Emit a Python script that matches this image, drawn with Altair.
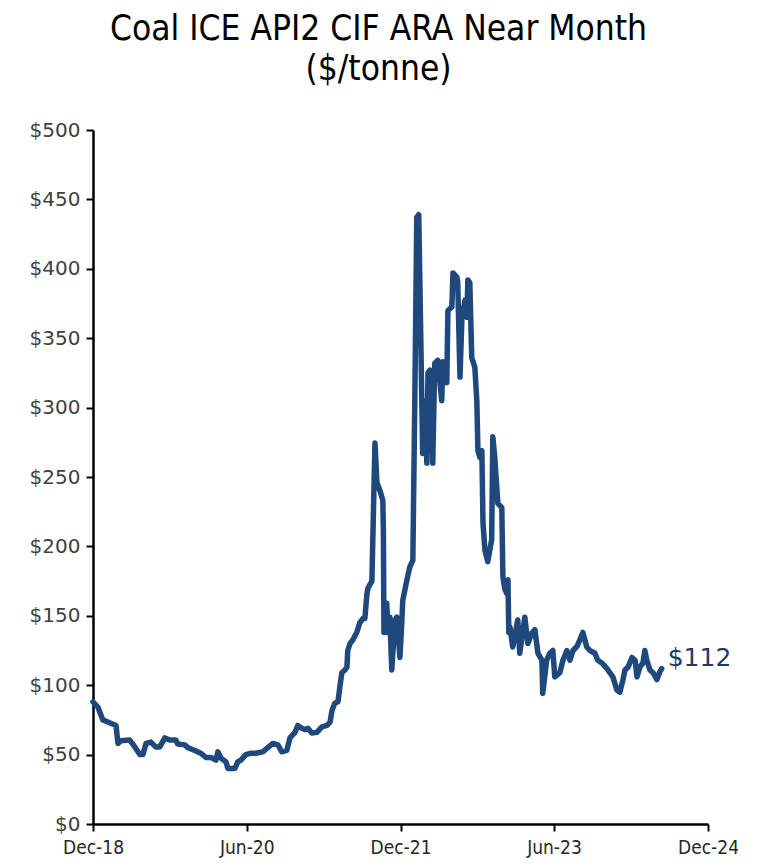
import altair as alt
import pandas as pd

dates = [
    "2018-12-01", "2018-12-19", "2019-01-05", "2019-01-23", "2019-02-21", "2019-02-28",
    "2019-03-10", "2019-04-11", "2019-04-29", "2019-05-17", "2019-05-28", "2019-06-08",
    "2019-06-25", "2019-07-13", "2019-07-27", "2019-08-14", "2019-09-01", "2019-09-22",
    "2019-09-29", "2019-10-24", "2019-11-04", "2019-11-29", "2019-12-20", "2020-01-07",
    "2020-01-25", "2020-02-12", "2020-02-19", "2020-03-01", "2020-03-19", "2020-03-26",
    "2020-04-20", "2020-04-30", "2020-05-11", "2020-05-29", "2020-06-16", "2020-07-03",
    "2020-07-28", "2020-08-15", "2020-09-02", "2020-09-20", "2020-10-04", "2020-10-22",
    "2020-11-02", "2020-11-20", "2020-11-30", "2020-12-14", "2020-12-25", "2021-01-05",
    "2021-01-19", "2021-02-06", "2021-02-24", "2021-03-14", "2021-03-25", "2021-04-01",
    "2021-04-11", "2021-04-22", "2021-04-29", "2021-05-06", "2021-05-17", "2021-05-24",
    "2021-05-27", "2021-06-04", "2021-06-14", "2021-06-28", "2021-07-09", "2021-07-20",
    "2021-07-27", "2021-08-03", "2021-08-07", "2021-08-21", "2021-08-24", "2021-09-01",
    "2021-09-08", "2021-09-19", "2021-09-29", "2021-10-01", "2021-10-03", "2021-10-13",
    "2021-10-17", "2021-10-24", "2021-10-31", "2021-11-11", "2021-11-18", "2021-11-29",
    "2021-12-06", "2021-12-09", "2021-12-24", "2022-01-03", "2022-01-14", "2022-01-21",
    "2022-01-28", "2022-02-04", "2022-02-11", "2022-02-18", "2022-02-25", "2022-03-05",
    "2022-03-09", "2022-03-16", "2022-03-23", "2022-03-26", "2022-04-02", "2022-04-13",
    "2022-04-27", "2022-05-01", "2022-05-15", "2022-05-19", "2022-06-02", "2022-06-06",
    "2022-06-20", "2022-06-23", "2022-07-01", "2022-07-08", "2022-07-19", "2022-07-26",
    "2022-07-29", "2022-08-05", "2022-08-12", "2022-08-23", "2022-08-30", "2022-09-03",
    "2022-09-10", "2022-09-17", "2022-09-21", "2022-09-28", "2022-10-08", "2022-10-22",
    "2022-10-26", "2022-11-02", "2022-11-13", "2022-11-27", "2022-12-01", "2022-12-08",
    "2022-12-15", "2022-12-19", "2022-12-22", "2022-12-26", "2023-01-05", "2023-01-23",
    "2023-01-30", "2023-02-17", "2023-02-28", "2023-03-14", "2023-03-25", "2023-04-05",
    "2023-04-19", "2023-04-22", "2023-05-06", "2023-05-17", "2023-05-28", "2023-06-04",
    "2023-06-22", "2023-07-03", "2023-07-17", "2023-07-28", "2023-08-08", "2023-08-22",
    "2023-09-01", "2023-09-12", "2023-09-26", "2023-10-07", "2023-10-25", "2023-11-04",
    "2023-11-19", "2023-12-07", "2023-12-17", "2023-12-28", "2024-01-11", "2024-01-22",
    "2024-02-02", "2024-02-09", "2024-02-20", "2024-03-05", "2024-03-16", "2024-03-23",
    "2024-04-02", "2024-04-13", "2024-04-20", "2024-04-27", "2024-05-08", "2024-05-19",
    "2024-06-02", "2024-06-12", "2024-06-19",
]

prices = [
    88, 84, 75, 73.5, 71, 58,
    60, 60.5, 55.5, 50, 50, 58,
    59, 55.5, 55.5, 62, 60.5, 60.5,
    57.6, 57, 55, 53, 51, 48,
    48, 46, 52, 47.5, 44.7, 40,
    40, 44.7, 46, 50, 51, 51,
    52, 55, 58, 57, 52, 53,
    62, 66, 71, 69, 68, 69,
    65.5, 66, 70, 71, 73.5, 82,
    87, 88, 99, 109, 111, 113,
    125, 130, 132.5, 138, 145, 148,
    148, 165, 170, 175, 202, 274.5,
    246, 240, 233, 210, 138, 159,
    138, 149, 111, 147, 149, 120,
    147, 161, 176, 185, 190, 305,
    437, 439, 354, 267, 305, 260,
    325, 327, 286, 260, 332, 334,
    305, 333, 318, 370, 372.5, 397,
    394, 390, 322, 365, 377.5, 365,
    392, 390, 336, 329, 305, 269,
    264, 269, 217, 197, 189, 205,
    279, 264, 231, 228, 178, 169,
    166, 176, 138, 142, 127.5, 147,
    123, 149, 130, 137.6, 140, 123,
    118, 94, 118, 123, 125, 106,
    109, 118, 125, 118, 125, 128,
    132.5, 138, 127.5, 125, 123, 118,
    116, 112, 109, 106, 96.5, 95,
    104, 111, 113, 120, 118, 106,
    113, 116, 125, 118, 111, 109,
    104, 109.5, 112,
]

last_label = ["$112"]

tick_dates = ["2018-12-01", "2020-06-01", "2021-12-01", "2023-06-01", "2024-12-01"]

df = pd.DataFrame({"date": dates, "price": prices})
last_df = pd.DataFrame({"date": [dates[-1]], "price": [prices[-1]], "label": last_label})

tick_values = [
    alt.DateTime(year=int(d[:4]), month=int(d[5:7]), date=int(d[8:]), utc=True)
    for d in tick_dates
]

x_scale = alt.Scale(
    type="utc",
    domain=[tick_values[0], tick_values[-1]],
)
y_scale = alt.Scale(domain=[0, 500])

line = alt.Chart(df).mark_line(
    color="#1F497D", strokeWidth=5.5, strokeJoin="round", strokeCap="round"
).encode(
    x=alt.X(
        "date:T",
        scale=x_scale,
        title=None,
        axis=alt.Axis(
            values=tick_values,
            labelExpr="utcFormat(datum.value, '%b-%y')",
            labelAlign="center",
            labelFont="DejaVu Sans Condensed",
            labelFontSize=19,
            labelColor="#262626",
            labelPadding=7,
            tickSize=7,
            tickWidth=2,
            tickColor="black",
            domainColor="black",
            domainWidth=2.5,
            grid=False,
            labelOverlap=False,
            labelFlush=False,
        ),
    ),
    y=alt.Y(
        "price:Q",
        scale=y_scale,
        title=None,
        axis=alt.Axis(
            values=list(range(0, 501, 50)),
            format="$,.0f",
            labelFont="DejaVu Sans",
            labelFontSize=20,
            labelColor="#404040",
            labelPadding=6,
            tickSize=7,
            tickWidth=2,
            tickColor="black",
            domainColor="black",
            domainWidth=2.5,
            grid=False,
        ),
    ),
)

label = alt.Chart(last_df).mark_text(
    align="left", baseline="middle", dx=6, dy=-11,
    font="DejaVu Sans", fontSize=25, color="#1F3864",
).encode(
    x=alt.X("date:T", scale=x_scale),
    y=alt.Y("price:Q", scale=y_scale),
    text="label:N",
)

chart = (
    alt.layer(line, label)
    .properties(
        width=615,
        height=694,
        autosize=alt.AutoSizeParams(type="none"),
        padding={"left": 85, "top": 122, "right": 30, "bottom": 41},
        title=alt.TitleParams(
            text=["Coal ICE API2 CIF ARA Near Month", "($/tonne)"],
            font="DejaVu Sans Condensed",
            fontSize=35,
            fontWeight="normal",
            color="black",
            anchor="middle",
            dx=-22,
            lineHeight=40,
            offset=33,
        ),
    )
    .configure_view(stroke=None)
)

chart.save("out.html", embed_options={"renderer": "svg", "actions": False})
